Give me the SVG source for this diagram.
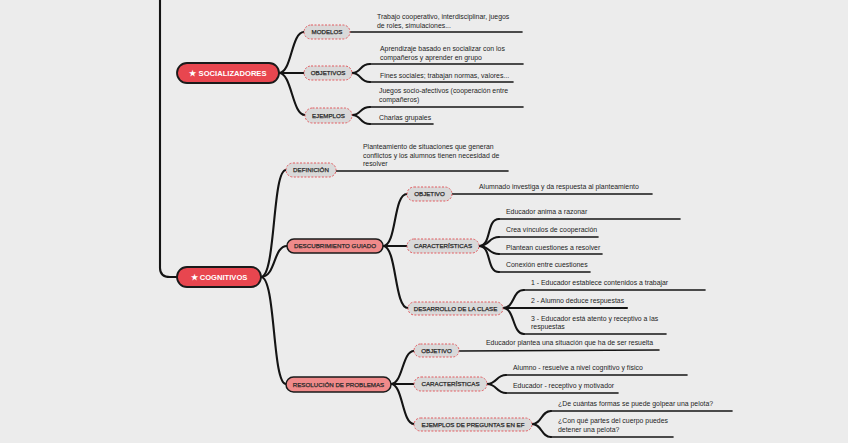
<svg xmlns="http://www.w3.org/2000/svg" width="848" height="443" viewBox="0 0 848 443">
<style>
.bg{fill:#ececec}
.c{fill:none;stroke:#141414;stroke-width:2.1;stroke-linecap:round;stroke-linejoin:round}
.u{fill:none;stroke:#141414;stroke-width:1.6;stroke-linecap:round}
.main{fill:#e8464f;stroke:#1a1a1a;stroke-width:1.8}
.mt{font-family:"Liberation Sans",Arial,sans-serif;font-size:7.6px;font-weight:bold;fill:#fff;text-anchor:middle}
.sec{fill:#f08a8a;stroke:#1a1a1a;stroke-width:1.5}
.sub{fill:#d9d9d9;stroke:#e25a5f;stroke-width:1;stroke-dasharray:2 1.5}
.lt{font-family:"Liberation Sans",Arial,sans-serif;font-size:6.2px;fill:#2a2a2a;stroke:#2a2a2a;stroke-width:0.25;text-anchor:middle}
.t{font-family:"Liberation Sans",Arial,sans-serif;font-size:6.9px;fill:#1e1e1e}
</style>
<rect class="bg" x="0" y="0" width="848" height="443"/>
<g id="connectors">
<path class="c" d="M160 0 L160 268 Q160 277 170 277 L177 277"/>
<path class="c" d="M279 73 C292 73 291 32 304 32"/>
<path class="c" d="M279 73 L304 73"/>
<path class="c" d="M279 73 C292 73 292 115 305 115"/>
<path class="u" d="M350 32 L522 32"/>
<path class="c" d="M352 73 C362 73 359 64 370 64"/><path class="u" d="M370 64 L523 64"/>
<path class="c" d="M352 73 C362 73 359 82 370 82"/><path class="u" d="M370 82 L513 82"/>
<path class="c" d="M352 115 C362 115 359 107 370 107"/><path class="u" d="M370 107 L523 107"/>
<path class="c" d="M352 115 C362 115 359 124 370 124"/><path class="u" d="M370 124 L433 124"/>
<path class="c" d="M261 277 C276 277 272 170 286 170"/>
<path class="c" d="M261 277 C276 277 273 246 287 246"/>
<path class="c" d="M261 277 C276 277 272 384 286 384"/>
<path class="u" d="M336 171 L508 171"/>
<path class="c" d="M383 246 C397 246 393 194 407 194"/>
<path class="c" d="M383 246 L407 246"/>
<path class="c" d="M383 246 C397 246 394 308 408 308"/>
<path class="u" d="M452 194 L652 194"/>
<path class="c" d="M479 246 C492 246 486 219 499 219"/><path class="u" d="M499 219 L680 219"/>
<path class="c" d="M479 246 C490 246 488 237 499 237"/><path class="u" d="M499 237 L598 237"/>
<path class="c" d="M479 246 C490 246 488 254 499 254"/><path class="u" d="M499 254 L602 254"/>
<path class="c" d="M479 246 C492 246 486 272 499 272"/><path class="u" d="M499 272 L590 272"/>
<path class="c" d="M503 308 C515 308 512 290 524 290"/><path class="u" d="M524 290 L705 290"/>
<path class="c" d="M503 308 L627 308"/>
<path class="c" d="M503 308 C515 308 512 334 524 334"/><path class="u" d="M524 334 L666 334"/>
<path class="c" d="M391 384 C403 384 402 351 414 351"/>
<path class="c" d="M391 384 L414 384"/>
<path class="c" d="M391 384 C403 384 402 424 414 424"/>
<path class="u" d="M459 351 L659 350"/>
<path class="c" d="M487 384 C497 384 496 375 506 375"/><path class="u" d="M506 375 L687 375"/>
<path class="c" d="M487 384 C497 384 496 393 506 393"/><path class="u" d="M506 393 L618 393"/>
<path class="c" d="M532 424 C542 424 541 411 551 411"/><path class="u" d="M551 411 L732 411"/>
<path class="c" d="M532 424 C542 424 541 437 551 437"/><path class="u" d="M551 437 L673 437"/>
</g>
<g id="socializadores"><rect class="main" x="177" y="63" width="102" height="20" rx="10"/><text class="mt" x="228" y="76">★ SOCIALIZADORES</text></g>
<g id="modelos"><rect class="sub" x="304" y="25" width="46" height="14" rx="7"/><text class="lt" x="327" y="34.2">MODELOS</text></g>
<g id="objetivos"><rect class="sub" x="304" y="66" width="48" height="14" rx="7"/><text class="lt" x="328" y="75.2">OBJETIVOS</text></g>
<g id="ejemplos"><rect class="sub" x="305" y="108" width="47" height="15" rx="7.5"/><text class="lt" x="328.5" y="117.7">EJEMPLOS</text></g>
<g id="t-modelos"><text class="t" x="377" y="19">Trabajo cooperativo, interdisciplinar, juegos</text><text class="t" x="377" y="28">de roles, simulaciones...</text></g>
<g id="t-obj1"><text class="t" x="380" y="51">Aprendizaje basado en socializar con los</text><text class="t" x="380" y="60">compañeros y aprender en grupo</text></g>
<g id="t-obj2"><text class="t" x="380" y="77.5">Fines sociales; trabajan normas, valores...</text></g>
<g id="t-ej1"><text class="t" x="379" y="93">Juegos socio-afectivos (cooperación entre</text><text class="t" x="379" y="101.5">compañeros)</text></g>
<g id="t-ej2"><text class="t" x="379" y="119.5">Charlas grupales</text></g>
<g id="cognitivos"><rect class="main" x="177" y="267" width="84" height="20" rx="10"/><text class="mt" x="219" y="280">★ COGNITIVOS</text></g>
<g id="definicion"><rect class="sub" x="286" y="163" width="50" height="14" rx="7"/><text class="lt" x="311" y="172.2">DEFINICIÓN</text></g>
<g id="t-def"><text class="t" x="363" y="149">Planteamiento de situaciones que generan</text><text class="t" x="363" y="157.5">conflictos y los alumnos tienen necesidad de</text><text class="t" x="363" y="166">resolver</text></g>
<g id="descubrimiento"><rect class="sec" x="287" y="239" width="96" height="14" rx="7"/><text class="lt" x="335" y="248.2">DESCUBRIMIENTO GUIADO</text></g>
<g id="objetivo1"><rect class="sub" x="407" y="187" width="45" height="14" rx="7"/><text class="lt" x="429.5" y="196.2">OBJETIVO</text></g>
<g id="t-obj-d"><text class="t" x="479" y="189">Alumnado investiga y da respuesta al planteamiento</text></g>
<g id="caracteristicas1"><rect class="sub" x="407" y="239" width="72" height="14" rx="7"/><text class="lt" x="443" y="248.2">CARACTERÍSTICAS</text></g>
<g id="t-c1"><text class="t" x="506" y="214">Educador anima a razonar</text></g>
<g id="t-c2"><text class="t" x="506" y="232">Crea vínculos de cooperación</text></g>
<g id="t-c3"><text class="t" x="506" y="250">Plantean cuestiones a resolver</text></g>
<g id="t-c4"><text class="t" x="506" y="267">Conexión entre cuestiones</text></g>
<g id="desarrollo"><rect class="sub" x="408" y="302" width="95" height="13" rx="6.5"/><text class="lt" x="455.5" y="310.7">DESARROLLO DE LA CLASE</text></g>
<g id="t-d1"><text class="t" x="531" y="285">1 - Educador establece contenidos a trabajar</text></g>
<g id="t-d2"><text class="t" x="531" y="302.5">2 - Alumno deduce respuestas</text></g>
<g id="t-d3"><text class="t" x="531" y="320.5">3 - Educador está atento y receptivo a las</text><text class="t" x="531" y="329">respuestas</text></g>
<g id="resolucion"><rect class="sec" x="286" y="377" width="105" height="15" rx="7.5"/><text class="lt" x="338.5" y="386.7">RESOLUCIÓN DE PROBLEMAS</text></g>
<g id="objetivo2"><rect class="sub" x="414" y="344" width="45" height="13" rx="6.5"/><text class="lt" x="436.5" y="352.7">OBJETIVO</text></g>
<g id="t-ro"><text class="t" x="486" y="345">Educador plantea una situación que ha de ser resuelta</text></g>
<g id="caracteristicas2"><rect class="sub" x="414" y="377" width="73" height="14" rx="7"/><text class="lt" x="450.5" y="386.2">CARACTERÍSTICAS</text></g>
<g id="t-rc1"><text class="t" x="513" y="370">Alumno - resuelve a nivel cognitivo y físico</text></g>
<g id="t-rc2"><text class="t" x="513" y="388">Educador - receptivo y motivador</text></g>
<g id="ejemplos-ef"><rect class="sub" x="414" y="418" width="118" height="13" rx="6.5"/><text class="lt" x="473" y="426.7">EJEMPLOS DE PREGUNTAS EN EF</text></g>
<g id="t-e1"><text class="t" x="558" y="406">¿De cuántas formas se puede golpear una pelota?</text></g>
<g id="t-e2"><text class="t" x="558" y="423">¿Con qué partes del cuerpo puedes</text><text class="t" x="558" y="431.5">detener una pelota?</text></g>
</svg>
